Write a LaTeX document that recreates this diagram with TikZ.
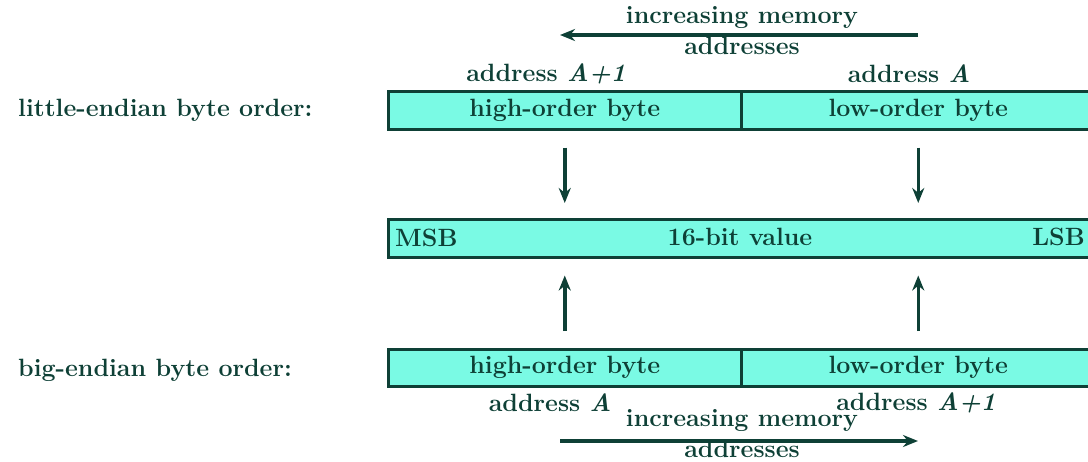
\documentclass[tikz,border=0pt]{standalone}
\usepackage{xcolor}
\usetikzlibrary{arrows.meta,positioning}
\definecolor{aqua}{RGB}{122,250,228}
\definecolor{ink}{RGB}{14,64,54}
\tikzset{cell/.style={draw=ink, line width=2.5pt, fill=aqua, inner sep=0pt, anchor=north west, minimum height=38pt},
  lbl/.style={text=ink, inner sep=0pt},
  flow/.style={->, draw=ink, line width=3.5pt}}

\begin{document}
\begin{tikzpicture}[x=1pt, y=-1pt, >={Stealth[length=15pt,width=12pt]},
    font=\fontsize{25}{31}\selectfont\bfseries]
    \useasboundingbox (0,0) rectangle (1088,461);
    \clip (0,0) rectangle (1088,461);
    % little-endian
    \node[cell, minimum width=353pt] (hiL) at (387,90) {\textcolor{ink}{high-order byte}};
    \node[cell, minimum width=354pt] (loL) at (740,90) {\textcolor{ink}{low-order byte}};
    \node[lbl, anchor=west] (lename) at (18,110) {little-endian byte order:};
    \node[lbl] (adrL1) at (546,74) {address \textit{A+1}};
    \node[lbl] (adrL0) at (909,74) {address \textit{A}};
    \node[lbl, align=center] (incT) at (742,31) {increasing memory\\addresses};
    \coordinate (incTa) at (918,35); \coordinate (incTb) at (560,35);
    \draw[flow] (incTa) -- (incTb);
    % 16-bit value
    \node[cell, minimum width=707pt] (val) at (387,218) {};
    \node[lbl, anchor=west] (msb) at ([xshift=8pt]val.west) {MSB};
    \node[lbl] (bits) at (740,237) {16-bit value};
    \node[lbl, anchor=east] (lsb) at (1085,237) {LSB};
    \draw[flow] ([yshift=-17pt]hiL.south) -- ([yshift=15pt]hiL.south |- val.north);
    \draw[flow] ([yshift=-17pt]loL.south) -- ([yshift=15pt]loL.south |- val.north);
    % big-endian
    \node[cell, minimum width=353pt, minimum height=37pt] (hiB) at (387,348) {\textcolor{ink}{high-order byte}};
    \node[cell, minimum width=354pt, minimum height=37pt] (loB) at (740,348) {\textcolor{ink}{low-order byte}};
    \node[lbl, anchor=west] (bename) at (18,370) {big-endian byte order:};
    \node[lbl] (adrB0) at (550,403) {address \textit{A}};
    \node[lbl] (adrB1) at (916,403) {address \textit{A+1}};
    \draw[flow] ([yshift=17pt]hiB.north) -- ([yshift=-17pt]hiB.north |- val.south);
    \draw[flow] ([yshift=17pt]loB.north) -- ([yshift=-17pt]loB.north |- val.south);
    \node[lbl, align=center] (incB) at (742,434) {increasing memory\\addresses};
    \coordinate (incBa) at (560,441); \coordinate (incBb) at (918,441);
    \draw[flow] (incBa) -- (incBb);
\end{tikzpicture}
\end{document}
